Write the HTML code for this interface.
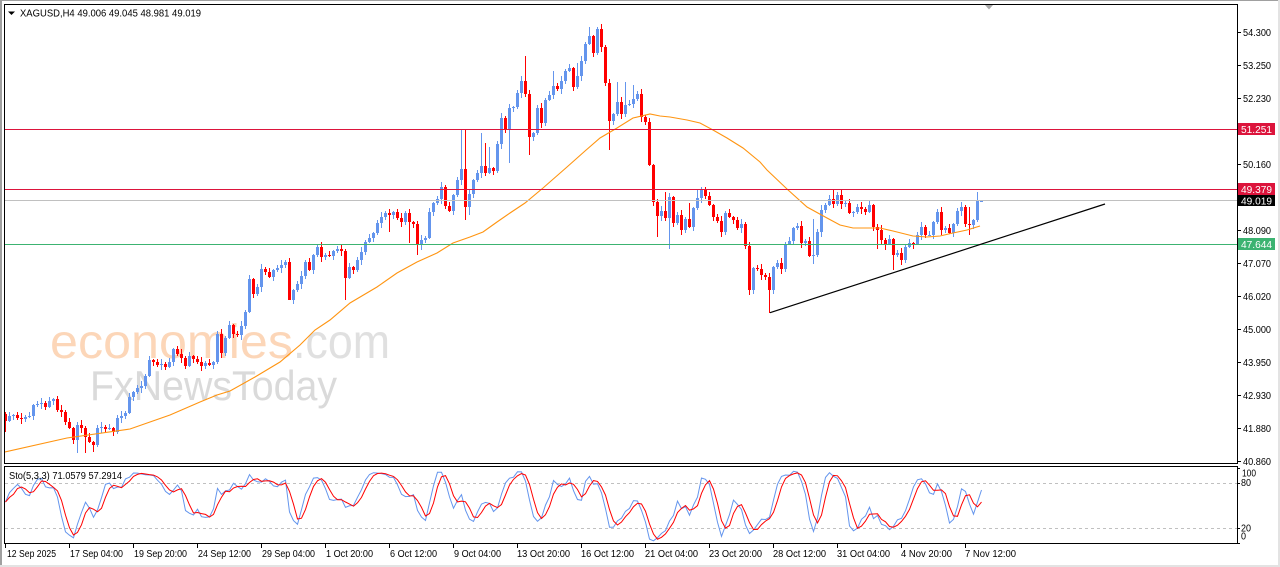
<!DOCTYPE html>
<html><head><meta charset="utf-8">
<style>
html,body{margin:0;padding:0;background:#fff;width:1280px;height:567px;overflow:hidden}
svg{display:block}
text{font-family:"Liberation Sans",sans-serif}
</style></head><body>
<svg id="s" xmlns="http://www.w3.org/2000/svg" width="1280" height="567" viewBox="0 0 1280 567">
<defs>
<clipPath id="mainclip"><rect x="5" y="5" width="1232" height="458"/></clipPath>
<clipPath id="subclip"><rect x="5" y="467" width="1232" height="77"/></clipPath>
</defs>
<rect width="1280" height="567" fill="#fff"/>
<!-- outer frame -->
<rect x="0" y="0" width="1280" height="1" fill="#a0a0a0"/>
<rect x="0" y="0" width="2" height="567" fill="#a0a0a0"/>
<rect x="1278" y="0" width="2" height="567" fill="#e3e3e3"/>
<rect x="0" y="565" width="1280" height="2" fill="#e3e3e3"/>

<!-- watermark -->
<text x="50" y="358" font-size="48" fill="#fcd6b8" textLength="243" lengthAdjust="spacingAndGlyphs">economies</text>
<text x="293" y="358" font-size="48" fill="#e0e0e0" textLength="97" lengthAdjust="spacingAndGlyphs">.com</text>
<text x="90" y="400" font-size="42" fill="#dadada" textLength="247" lengthAdjust="spacingAndGlyphs">FxNewsToday</text>

<!-- candles -->
<g id="cg" clip-path="url(#mainclip)" shape-rendering="crispEdges"></g>

<!-- moving average -->
<polyline clip-path="url(#mainclip)" fill="none" stroke="#ff9410" stroke-width="1.1" points="5,452 67,438 130,429 170,415 200,402 217,395 230,391 255,377 280,362 300,345 315,330 330,320 350,303 377,287 397,273 417,262 437,253 453,243 470,237 483,232 497,222 510,213 525,203 543,188 567,167 585,151 600,138 617,128 633,118 650,114 660,116 670,117 687,120 700,123 713,130 727,138 743,148 760,162 767,170 787,189 807,207 827,218 840,225 853,228 880,228 893,231 913,236 927,237 940,236 953,233 967,230 980,226"/>

<!-- horizontal lines -->
<g shape-rendering="crispEdges">
<line x1="5" y1="129.5" x2="1237" y2="129.5" stroke="#dc143c" stroke-width="1"/>
<line x1="5" y1="189.5" x2="1237" y2="189.5" stroke="#dc143c" stroke-width="1"/>
<line x1="5" y1="200.5" x2="1237" y2="200.5" stroke="#c0c0c0" stroke-width="1"/>
<line x1="5" y1="244.5" x2="1237" y2="244.5" stroke="#3cb371" stroke-width="1"/>
</g>

<!-- trendline -->
<line x1="770" y1="312.7" x2="1105" y2="204" stroke="#000" stroke-width="1.2"/>

<!-- top marker -->
<polygon points="985,5 993,5 989,9.5" fill="#a8a8a8"/>

<!-- title -->
<polygon points="8,11.5 15,11.5 11.5,15" fill="#000"/>
<text x="20" y="16.5" font-size="10" fill="#000" textLength="181" lengthAdjust="spacingAndGlyphs">XAGUSD,H4  49.006 49.045 48.981 49.019</text>

<!-- sub window -->
<g shape-rendering="crispEdges">
<line x1="5" y1="483.5" x2="1237" y2="483.5" stroke="#c0c0c0" stroke-dasharray="3,3"/>
<line x1="5" y1="528.5" x2="1237" y2="528.5" stroke="#c0c0c0" stroke-dasharray="3,3"/>
</g>
<g id="sg" clip-path="url(#subclip)"></g>
<text x="9" y="479" font-size="10" fill="#000" textLength="113" lengthAdjust="spacingAndGlyphs">Sto(5,3,3) 71.0579 57.2914</text>

<!-- borders -->
<g shape-rendering="crispEdges" fill="none" stroke="#000" stroke-width="1">
<rect x="4.5" y="4.5" width="1233" height="459"/>
<rect x="4.5" y="466.5" width="1233" height="77"/>
</g>

<!-- price axis -->
<g font-size="10" fill="#000" shape-rendering="crispEdges">
<g stroke="#000">
<line x1="1237" y1="32.5" x2="1241" y2="32.5"/>
<line x1="1237" y1="65.5" x2="1241" y2="65.5"/>
<line x1="1237" y1="98.5" x2="1241" y2="98.5"/>
<line x1="1237" y1="164.5" x2="1241" y2="164.5"/>
<line x1="1237" y1="230.5" x2="1241" y2="230.5"/>
<line x1="1237" y1="263.5" x2="1241" y2="263.5"/>
<line x1="1237" y1="296.5" x2="1241" y2="296.5"/>
<line x1="1237" y1="329.5" x2="1241" y2="329.5"/>
<line x1="1237" y1="362.5" x2="1241" y2="362.5"/>
<line x1="1237" y1="395.5" x2="1241" y2="395.5"/>
<line x1="1237" y1="428.5" x2="1241" y2="428.5"/>
<line x1="1237" y1="461.5" x2="1241" y2="461.5"/>
<line x1="1237" y1="468.5" x2="1240" y2="468.5"/>
<line x1="1237" y1="483.5" x2="1240" y2="483.5"/>
<line x1="1237" y1="528.5" x2="1240" y2="528.5"/>
<line x1="1237" y1="543.5" x2="1240" y2="543.5"/>
</g>
<text x="1243" y="36" textLength="28" lengthAdjust="spacingAndGlyphs">54.300</text>
<text x="1243" y="69" textLength="28" lengthAdjust="spacingAndGlyphs">53.250</text>
<text x="1243" y="102" textLength="28" lengthAdjust="spacingAndGlyphs">52.230</text>
<text x="1243" y="135" textLength="28" lengthAdjust="spacingAndGlyphs">51.200</text>
<text x="1243" y="168" textLength="28" lengthAdjust="spacingAndGlyphs">50.160</text>
<text x="1243" y="234" textLength="28" lengthAdjust="spacingAndGlyphs">48.090</text>
<text x="1243" y="267" textLength="28" lengthAdjust="spacingAndGlyphs">47.070</text>
<text x="1243" y="300" textLength="28" lengthAdjust="spacingAndGlyphs">46.020</text>
<text x="1243" y="333" textLength="28" lengthAdjust="spacingAndGlyphs">45.000</text>
<text x="1243" y="366" textLength="28" lengthAdjust="spacingAndGlyphs">43.950</text>
<text x="1243" y="399" textLength="28" lengthAdjust="spacingAndGlyphs">42.930</text>
<text x="1243" y="432" textLength="28" lengthAdjust="spacingAndGlyphs">41.880</text>
<text x="1243" y="465" textLength="28" lengthAdjust="spacingAndGlyphs">40.860</text>
<text x="1242" y="476.5" textLength="14" lengthAdjust="spacingAndGlyphs">100</text>
<text x="1241" y="486" textLength="10" lengthAdjust="spacingAndGlyphs">80</text>
<text x="1241" y="531.5" textLength="10" lengthAdjust="spacingAndGlyphs">20</text>
<text x="1241" y="539.5" textLength="5" lengthAdjust="spacingAndGlyphs">0</text>
<!-- label boxes -->
<rect x="1238" y="123" width="37" height="12" fill="#dc143c"/>
<text x="1241" y="133" fill="#fff" textLength="31" lengthAdjust="spacingAndGlyphs">51.251</text>
<rect x="1238" y="183" width="37" height="12" fill="#dc143c"/>
<text x="1241" y="193" fill="#fff" textLength="31" lengthAdjust="spacingAndGlyphs">49.379</text>
<rect x="1238" y="195" width="37" height="11" fill="#000"/>
<text x="1241" y="204.5" fill="#fff" textLength="31" lengthAdjust="spacingAndGlyphs">49.019</text>
<rect x="1238" y="238" width="37" height="12" fill="#3cb371"/>
<text x="1241" y="248" fill="#fff" textLength="31" lengthAdjust="spacingAndGlyphs">47.644</text>
</g>

<!-- time axis -->
<g font-size="10" fill="#000">
<g stroke="#000" shape-rendering="crispEdges">
<line x1="5.5" y1="544" x2="5.5" y2="548"/>
<line x1="69.5" y1="544" x2="69.5" y2="548"/>
<line x1="133.5" y1="544" x2="133.5" y2="548"/>
<line x1="197.5" y1="544" x2="197.5" y2="548"/>
<line x1="261.5" y1="544" x2="261.5" y2="548"/>
<line x1="325.5" y1="544" x2="325.5" y2="548"/>
<line x1="389.5" y1="544" x2="389.5" y2="548"/>
<line x1="453.5" y1="544" x2="453.5" y2="548"/>
<line x1="517.5" y1="544" x2="517.5" y2="548"/>
<line x1="581.5" y1="544" x2="581.5" y2="548"/>
<line x1="645.5" y1="544" x2="645.5" y2="548"/>
<line x1="709.5" y1="544" x2="709.5" y2="548"/>
<line x1="773.5" y1="544" x2="773.5" y2="548"/>
<line x1="837.5" y1="544" x2="837.5" y2="548"/>
<line x1="901.5" y1="544" x2="901.5" y2="548"/>
<line x1="965.5" y1="544" x2="965.5" y2="548"/>
</g>
<text x="7" y="557" textLength="49" lengthAdjust="spacingAndGlyphs">12 Sep 2025</text>
<text x="70" y="557" textLength="53" lengthAdjust="spacingAndGlyphs">17 Sep 04:00</text>
<text x="134" y="557" textLength="53" lengthAdjust="spacingAndGlyphs">19 Sep 20:00</text>
<text x="198" y="557" textLength="53" lengthAdjust="spacingAndGlyphs">24 Sep 12:00</text>
<text x="262" y="557" textLength="53" lengthAdjust="spacingAndGlyphs">29 Sep 04:00</text>
<text x="326" y="557" textLength="47" lengthAdjust="spacingAndGlyphs">1 Oct 20:00</text>
<text x="390" y="557" textLength="47" lengthAdjust="spacingAndGlyphs">6 Oct 12:00</text>
<text x="454" y="557" textLength="47" lengthAdjust="spacingAndGlyphs">9 Oct 04:00</text>
<text x="517" y="557" textLength="53" lengthAdjust="spacingAndGlyphs">13 Oct 20:00</text>
<text x="581" y="557" textLength="53" lengthAdjust="spacingAndGlyphs">16 Oct 12:00</text>
<text x="645" y="557" textLength="53" lengthAdjust="spacingAndGlyphs">21 Oct 04:00</text>
<text x="709" y="557" textLength="53" lengthAdjust="spacingAndGlyphs">23 Oct 20:00</text>
<text x="773" y="557" textLength="53" lengthAdjust="spacingAndGlyphs">28 Oct 12:00</text>
<text x="837" y="557" textLength="53" lengthAdjust="spacingAndGlyphs">31 Oct 04:00</text>
<text x="901" y="557" textLength="51" lengthAdjust="spacingAndGlyphs">4 Nov 20:00</text>
<text x="965" y="557" textLength="51" lengthAdjust="spacingAndGlyphs">7 Nov 12:00</text>
</g>
</svg>
<script>
(function(){
var NS="http://www.w3.org/2000/svg";
var Y=[421,416,415,418,419,417,416,405,404,403,
407,401,399,410,412,422,428,440,425,428,
437,442,445,428,427,429,428,432,418,416,
413,397,392,388,386,376,360,362,365,364,
367,362,349,354,358,366,356,359,362,366,
363,365,362,334,353,338,325,334,335,326,
312,279,294,287,269,272,277,270,268,265,
262,300,290,284,276,262,270,255,247,257,
255,256,251,249,251,278,267,270,260,252,
242,238,233,223,217,213,215,212,218,222,
213,222,224,245,240,238,212,203,199,187,
206,211,195,180,169,207,194,180,173,166,
173,168,171,144,118,130,108,107,93,81,
94,137,133,108,123,100,95,86,89,81,
71,68,87,76,61,44,36,53,29,47,
83,121,114,102,114,105,104,99,94,117,
122,165,202,216,211,218,197,223,215,230,
219,227,208,198,189,196,205,217,221,232,
213,217,220,228,224,246,290,268,269,275,
277,290,267,263,269,244,241,228,226,243,
241,256,255,232,210,205,199,204,195,204,
203,213,212,207,209,212,205,227,230,240,
244,239,255,253,260,247,243,245,235,227,
235,235,222,212,230,228,233,224,211,207,
224,225,220,201,200.6];
var HO={114:130,115:130,119:133,120:143,121:147,130:56,146:27,148:27,137:71,143:63,153:82,155:82,157:85,165:192,171:203,173:189,174:187,202:219,207:189,243:192,241:207,244:199.7};
var LO={0:432,18:453,20:453,22:452,71:300,85:300,96:232,101:243,103:255,115:220,116:215,126:163,131:155,151:150,163:237,166:249,191:313,202:264,218:249,220:250,222:270,186:295,241:235,228:244,244:201.8};
var N=Y.length,O=[],H=[],L=[];
var g=document.getElementById("cg");
for(var i=0;i<N;i++){
 var o=(i==0)?414:Y[i-1];
 if(i==N-1)o=201.0;
 var c=Y[i];
 var top=Math.min(o,c),bot=Math.max(o,c);
 var h=top-(1+((i*37+11)%5));
 var l=bot+(1+((i*53+7)%5));
 if(HO[i]!==undefined)h=Math.min(HO[i],top);
 if(LO[i]!==undefined)l=Math.max(LO[i],bot);
 O.push(o);H.push(h);L.push(l);
 var cx=5+4*i;
 var col=(c<=o)?"#6495ed":"#ff0000";
 var w=document.createElementNS(NS,"rect");
 w.setAttribute("x",cx);w.setAttribute("y",Math.round(h));
 w.setAttribute("width",1);w.setAttribute("height",Math.max(1,Math.round(l)-Math.round(h)));
 w.setAttribute("fill",col);g.appendChild(w);
 var b=document.createElementNS(NS,"rect");
 var bt=Math.round(top),bb=Math.round(bot);
 b.setAttribute("x",cx-1);b.setAttribute("y",bt);
 b.setAttribute("width",3);b.setAttribute("height",Math.max(1,bb-bt));
 b.setAttribute("fill",col);g.appendChild(b);
}
// stochastic 5,3,3 in price space (price = -y)
var LL=[],HH=[];
for(var i=0;i<N;i++){
 var mn=1e9,mx=-1e9;
 for(var k=Math.max(0,i-4);k<=i;k++){var lp=-L[k],hp=-H[k];if(lp<mn)mn=lp;if(hp>mx)mx=hp;}
 LL.push(mn);HH.push(mx);
}
var M=[],S=[];
for(var i=0;i<N;i++){
 var num=0,den=0;
 for(var j=Math.max(0,i-2);j<=i;j++){num+=(-Y[j])-LL[j];den+=HH[j]-LL[j];}
 M.push(den>0?num/den*100:50);
}
for(var i=0;i<N;i++){
 var s=0,n=0;
 for(var j=Math.max(0,i-2);j<=i;j++){s+=M[j];n++;}
 S.push(s/n);
}
M[N-1]=71.06;S[N-1]=(M[N-1]+M[N-2]+M[N-3])/3;
function pl(arr,col){
 var p=[];
 for(var i=0;i<N;i++){p.push((5.5+4*i)+","+(543.3-arr[i]*0.75).toFixed(1));}
 var e=document.createElementNS(NS,"polyline");
 e.setAttribute("points",p.join(" "));
 e.setAttribute("fill","none");e.setAttribute("stroke",col);e.setAttribute("stroke-width","1");
 document.getElementById("sg").appendChild(e);
}
pl(M,"#6495ed");
pl(S,"#ff0000");
})();
</script>
</body></html>
